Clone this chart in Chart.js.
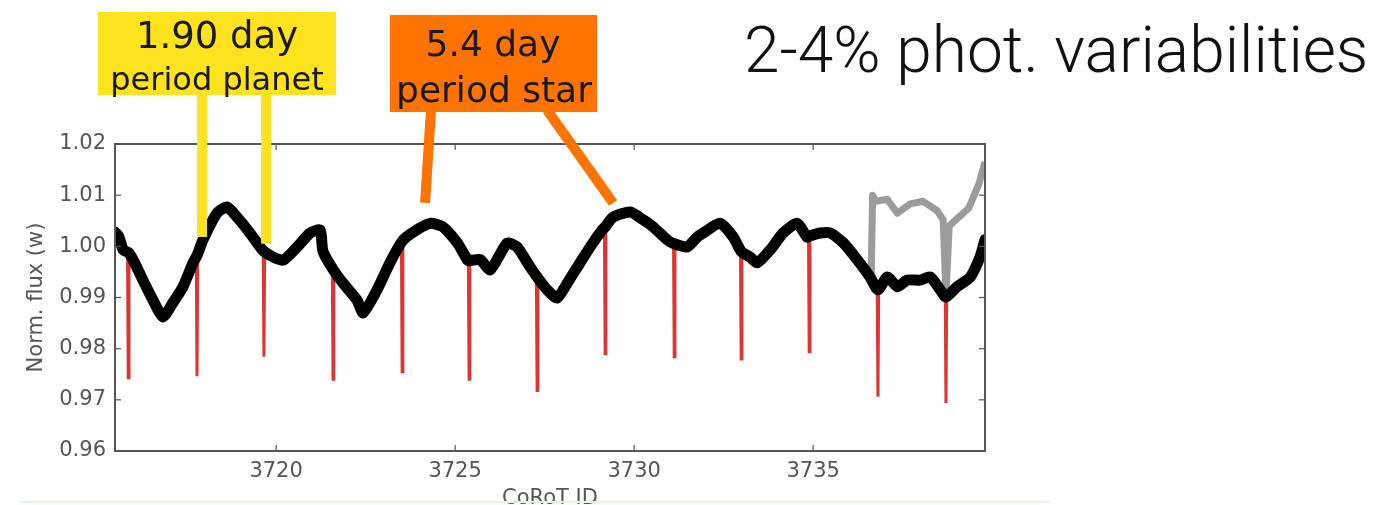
<!DOCTYPE html>
<html>
<head>
<meta charset="utf-8">
<script src="https://cdn.jsdelivr.net/npm/chart.js@4.4.1/dist/chart.umd.min.js"></script>
<style>
  html, body { margin: 0; padding: 0; background: #fff; }
  canvas { display: block; }
</style>
</head>
<body>
<canvas id="chart" width="1394" height="505"></canvas>
<script>
// normalised light curve (black)
const fluxTime = [
  3715.50, 3715.60, 3715.73, 3715.87, 3716.01, 3716.28, 3716.56, 3716.84, 3717.12, 3717.40,
  3717.68, 3717.79, 3717.96, 3718.35, 3718.63, 3718.91, 3719.27, 3719.55, 3719.66, 3719.92,
  3720.20, 3720.59, 3720.95, 3721.23, 3721.31, 3721.59, 3721.87, 3722.26, 3722.43, 3722.82,
  3723.18, 3723.52, 3723.83, 3724.30, 3724.66, 3725.06, 3725.34, 3725.39, 3725.70, 3725.98,
  3726.45, 3726.73, 3727.09, 3727.29, 3727.57, 3727.85, 3728.13, 3728.49, 3728.85, 3729.11,
  3729.19, 3729.41, 3729.89, 3730.25, 3730.53, 3730.92, 3731.12, 3731.48, 3731.76, 3731.93,
  3732.40, 3732.77, 3732.99, 3733.24, 3733.44, 3733.80, 3734.16, 3734.55, 3734.83, 3734.89,
  3735.20, 3735.48, 3735.84, 3736.23, 3736.59, 3736.81, 3737.07, 3737.35, 3737.63, 3737.99,
  3738.27, 3738.55, 3738.71, 3739.02, 3739.39, 3739.66, 3739.80
];
const fluxValue = [
  1.0028, 1.0020, 0.9993, 0.9988, 0.9973, 0.9934, 0.9895, 0.9862, 0.9890, 0.9921,
  0.9968, 0.9982, 1.0013, 1.0065, 1.0077, 1.0057, 1.0026, 0.9999, 0.9990, 0.9979,
  0.9973, 0.9999, 1.0026, 1.0032, 0.9990, 0.9955, 0.9928, 0.9895, 0.9870, 0.9915,
  0.9968, 1.0010, 1.0028, 1.0045, 1.0038, 1.0007, 0.9974, 0.9972, 0.9974, 0.9954,
  1.0006, 0.9999, 0.9960, 0.9940, 0.9915, 0.9899, 0.9928, 0.9968, 1.0007, 1.0032,
  1.0038, 1.0057, 1.0067, 1.0052, 1.0038, 1.0013, 1.0005, 0.9999, 1.0018, 1.0026,
  1.0045, 1.0018, 0.9990, 0.9979, 0.9968, 0.9993, 1.0026, 1.0045, 1.0018, 1.0020,
  1.0026, 1.0026, 1.0007, 0.9974, 0.9940, 0.9915, 0.9940, 0.9921, 0.9934, 0.9934,
  0.9940, 0.9915, 0.9901, 0.9921, 0.9940, 0.9979, 1.0013
];

// planet transits (red): mid-time, flux just outside, flux at the bottom
const transitTime = [3715.87, 3717.79, 3719.66, 3721.59, 3723.52, 3725.39, 3727.29, 3729.19, 3731.12, 3732.99, 3734.89, 3736.81, 3738.71];
const transitTop = [0.9988, 0.9982, 0.9990, 0.9955, 1.0010, 0.9972, 0.9940, 1.0038, 1.0005, 0.9990, 1.0020, 0.9915, 0.9901];
const transitDepth = [0.9743, 0.9746, 0.9784, 0.9740, 0.9755, 0.9740, 0.9718, 0.9790, 0.9784, 0.9780, 0.9794, 0.9706, 0.9694];

// un-normalised end segment (grey)
const rawTime = [3736.62, 3736.66, 3736.75, 3737.07, 3737.35, 3737.71, 3738.07, 3738.46, 3738.63, 3738.71, 3738.80, 3739.07, 3739.35, 3739.63, 3739.80];
const rawValue = [0.9935, 1.0100, 1.0088, 1.0092, 1.0065, 1.0083, 1.0088, 1.0070, 1.0052, 0.9905, 1.0040, 1.0057, 1.0075, 1.0122, 1.0165];

const xTicks = [3720, 3725, 3730, 3735];
const yTicks = [0.96, 0.97, 0.98, 0.99, 1.00, 1.01, 1.02];

const transitPoints = [];
transitTime.forEach((t, i) => {
  transitPoints.push({ x: t - 0.02, y: transitTop[i] });
  transitPoints.push({ x: t, y: transitDepth[i] });
  transitPoints.push({ x: t + 0.02, y: transitTop[i] });
  transitPoints.push({ x: t + 0.03, y: null });
});

const YELLOW = 'rgb(253, 226, 30)';
const ORANGE = 'rgb(255, 115, 0)';

// frame, inward ticks, call-out boxes and the headline
const decorations = {
  id: 'decorations',
  afterDraw(chart) {
    const { ctx, chartArea: a, scales: { x, y } } = chart;
    const seg = (x1, y1, x2, y2) => {
      ctx.beginPath();
      ctx.moveTo(x1, y1);
      ctx.lineTo(x2, y2);
      ctx.stroke();
    };
    ctx.save();

    ctx.strokeStyle = '#555';
    ctx.lineWidth = 2;
    ctx.strokeRect(a.left, a.top, a.right - a.left, a.bottom - a.top);
    ctx.lineWidth = 1.2;
    x.ticks.forEach((t) => {
      const px = x.getPixelForValue(t.value);
      seg(px, a.bottom, px, a.bottom - 6);
      seg(px, a.top, px, a.top + 6);
    });
    y.ticks.forEach((t) => {
      const py = y.getPixelForValue(t.value);
      seg(a.left, py, a.left + 6, py);
      seg(a.right, py, a.right - 6, py);
    });

    // yellow call-out
    ctx.lineWidth = 10;
    ctx.strokeStyle = YELLOW;
    seg(x.getPixelForValue(3717.93), 95, x.getPixelForValue(3717.93), y.getPixelForValue(1.0018));
    seg(x.getPixelForValue(3719.72), 95, x.getPixelForValue(3719.72), y.getPixelForValue(1.0005));
    ctx.fillStyle = YELLOW;
    ctx.fillRect(98, 12, 238, 83);

    // orange call-out
    ctx.strokeStyle = ORANGE;
    seg(431, 110, x.getPixelForValue(3724.16), y.getPixelForValue(1.0085));
    seg(547, 110, x.getPixelForValue(3729.41), y.getPixelForValue(1.0085));
    ctx.fillStyle = ORANGE;
    ctx.fillRect(390, 15, 207, 97);

    ctx.fillStyle = '#1a1a1a';
    ctx.textAlign = 'center';
    ctx.textBaseline = 'alphabetic';
    ctx.font = '37px "DejaVu Sans"';
    ctx.fillText('1.90 day', 217, 48);
    ctx.font = '32px "DejaVu Sans"';
    ctx.fillText('period planet', 217, 90);
    ctx.font = '36px "DejaVu Sans"';
    ctx.fillText('5.4 day', 493, 56);
    ctx.fillText('period star', 494, 102);

    ctx.fillStyle = '#111';
    ctx.textAlign = 'left';
    ctx.font = '300 64px Roboto, "Liberation Sans"';
    ctx.fillText('2-4% phot. variabilities', 744, 72);

    ctx.strokeStyle = '#e2f5e2';
    ctx.lineWidth = 2;
    seg(20, 502, 1050, 502);
    ctx.restore();
  }
};

Chart.defaults.font.family = '"DejaVu Sans"';

new Chart(document.getElementById('chart'), {
  type: 'line',
  data: {
    datasets: [
      {
        label: 'normalised',
        data: fluxTime.map((t, i) => ({ x: t, y: fluxValue[i] })),
        borderColor: '#000',
        borderWidth: 11,
        borderJoinStyle: 'round',
        borderCapStyle: 'round',
        pointRadius: 0,
        tension: 0.2,
      },
      {
        label: 'raw',
        data: rawTime.map((t, i) => ({ x: t, y: rawValue[i] })),
        borderColor: 'rgb(155, 155, 155)',
        borderWidth: 7,
        borderJoinStyle: 'round',
        pointRadius: 0,
        tension: 0,
      },
      {
        label: 'transits',
        data: transitPoints,
        borderColor: 'rgb(222, 52, 52)',
        borderWidth: 3,
        pointRadius: 0,
        spanGaps: false,
        tension: 0,
      },
    ],
  },
  options: {
    responsive: false,
    animation: false,
    layout: { padding: { left: 0, top: 144, right: 409, bottom: 0 } },
    plugins: { legend: { display: false }, tooltip: { enabled: false } },
    scales: {
      x: {
        type: 'linear',
        min: 3715.5,
        max: 3739.8,
        afterBuildTicks: (s) => { s.ticks = xTicks.map((v) => ({ value: v })); },
        afterFit: (s) => { s.height = 54; },
        grid: { display: false, drawTicks: false },
        border: { display: false },
        ticks: { color: '#555', font: { size: 21 }, padding: 8, maxRotation: 0, autoSkip: false, callback: (v) => String(v) },
        title: { display: true, text: 'CoRoT ID', color: '#555', font: { size: 21 }, padding: { top: 0, bottom: -6 } },
      },
      y: {
        min: 0.96,
        max: 1.02,
        afterBuildTicks: (s) => { s.ticks = yTicks.map((v) => ({ value: v })); },
        afterFit: (s) => { s.width = 115; },
        grid: { display: false, drawTicks: false },
        border: { display: false },
        ticks: { color: '#555', font: { size: 21 }, padding: 9, callback: (v) => v.toFixed(2) },
        title: { display: true, text: 'Norm. flux (w)', color: '#555', font: { size: 21 }, padding: { top: 24, bottom: 0 } },
      },
    },
  },
  plugins: [decorations],
});
</script>
</body>
</html>
